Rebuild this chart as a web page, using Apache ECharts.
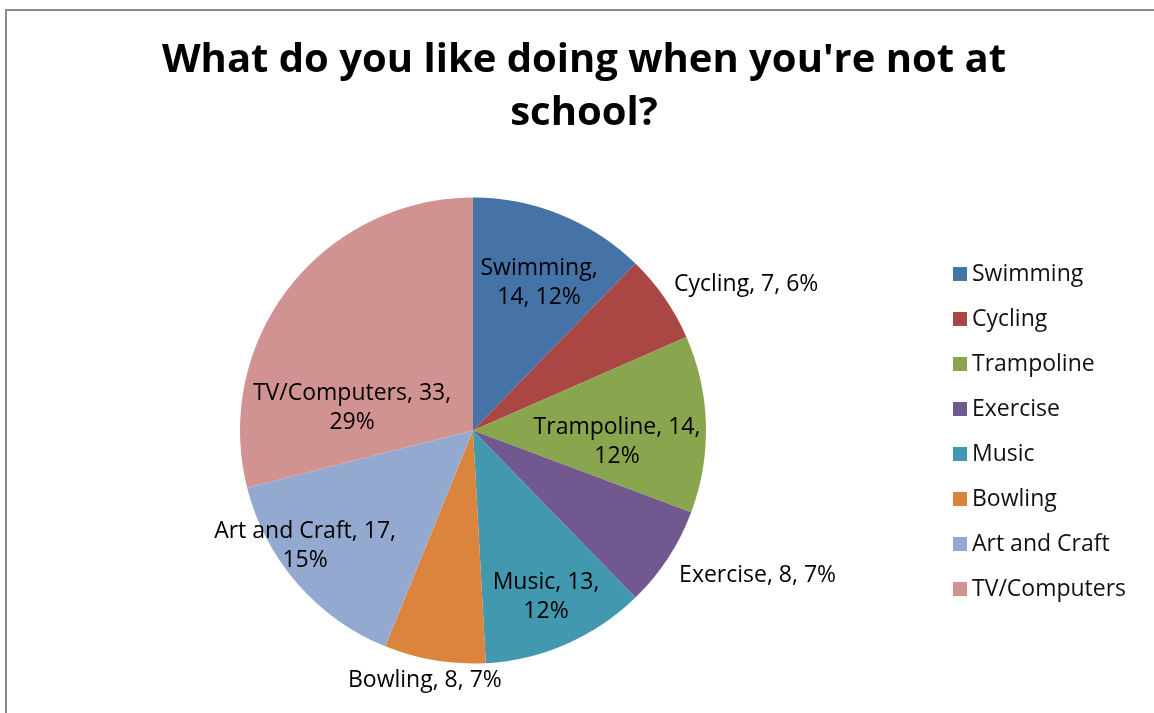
<!DOCTYPE html>
<html>
<head>
<meta charset="utf-8">
<script src="https://cdn.jsdelivr.net/npm/echarts@6/dist/echarts.min.js"></script>
<style>
  html, body { margin: 0; padding: 0; background: #fff; }
  #chart { width: 1154px; height: 713px; }
</style>
</head>
<body>
<div id="chart"></div>
<script>
// ---- data ----
const categories = ['Swimming', 'Cycling', 'Trampoline', 'Exercise', 'Music', 'Bowling', 'Art and Craft', 'TV/Computers'];
const values = [14, 7, 14, 8, 13, 8, 17, 33];
const colors = ['#4572A7', '#AA4643', '#89A54E', '#71588F', '#4198AF', '#DB843D', '#93A9CF', '#D19392'];
const titleText = "What do you like doing when you're not at\nschool?";

// ---- layout / style (not data) ----
const CX = 473, CY = 430.5, R = 233;
// label placement relative to each slice's mid-angle: radial factor, angle shift, alignment, wrap style
const labelTweak = [
  { f: 0.694, da: 2.0,   align: 'center', wrap: 'first' },
  { f: 1.065, da: -1.2,  align: 'left',   wrap: 'none' },
  { f: 0.62,  da: 6.2,   align: 'center', wrap: 'last' },
  { f: 1.082, da: 2.0,   align: 'left',   wrap: 'none' },
  { f: 0.78,  da: 0,     align: 'center', wrap: 'last' },
  { f: 1.094, da: 1.4,   align: 'center', wrap: 'none' },
  { f: 0.875, da: 6.5,   align: 'center', wrap: 'last' },
  { f: 0.528, da: -27.4, align: 'center', wrap: 'last' }
];
const formatters = {
  first: '{b},\n{c}, {d}%',
  last: '{b}, {c},\n{d}%',
  none: '{b}, {c}, {d}%'
};

const total = values.reduce((a, b) => a + b, 0);
const cum = [];
values.reduce((acc, v, i) => { cum[i] = acc; return acc + v; }, 0);

const FONT = 'Open Sans';

const chart = echarts.init(document.getElementById('chart'), null, { renderer: 'canvas' });
chart.setOption({
  backgroundColor: '#fff',
  animation: false,
  color: colors,
  graphic: [{
    type: 'rect',
    shape: { x: 6, y: 10, width: 1170, height: 730 },
    style: { fill: 'none', stroke: '#8a8a8a', lineWidth: 2 },
    silent: true
  }],
  title: {
    text: titleText,
    left: 584,
    textAlign: 'center',
    top: 34,
    padding: 0,
    textStyle: {
      fontFamily: FONT,
      fontWeight: 'bold',
      fontSize: 40,
      lineHeight: 53,
      color: '#000'
    }
  },
  legend: {
    orient: 'vertical',
    left: 953,
    top: 262,
    icon: 'rect',
    itemWidth: 14,
    itemHeight: 14,
    itemGap: 21,
    padding: 0,
    data: categories,
    itemStyle: { borderWidth: 0 },
    textStyle: {
      fontFamily: FONT,
      fontSize: 23,
      lineHeight: 24,
      color: '#111'
    }
  },
  series: [{
    type: 'pie',
    center: [CX, CY],
    radius: R,
    startAngle: 90,
    clockwise: true,
    percentPrecision: 0,
    avoidLabelOverlap: false,
    itemStyle: { borderWidth: 0 },
    label: {
      show: true,
      position: 'inside',
      fontFamily: FONT,
      fontSize: 23,
      lineHeight: 29,
      color: '#000'
    },
    labelLine: { show: false },
    emphasis: { disabled: true },
    labelLayout: function (params) {
      const i = params.dataIndex;
      const t = labelTweak[i];
      const mid = (cum[i] + values[i] / 2) / total * 360 + t.da;
      const rad = mid * Math.PI / 180;
      const d = R * t.f;
      return {
        x: CX + d * Math.sin(rad),
        y: CY - d * Math.cos(rad),
        align: t.align,
        verticalAlign: 'middle'
      };
    },
    data: categories.map((name, i) => ({
      name: name,
      value: values[i],
      label: { formatter: formatters[labelTweak[i].wrap] }
    }))
  }]
});
</script>
</body>
</html>
